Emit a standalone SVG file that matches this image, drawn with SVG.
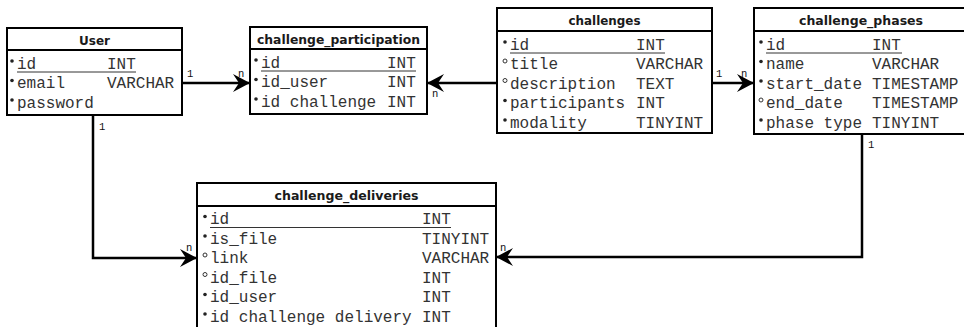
<svg xmlns="http://www.w3.org/2000/svg" width="964" height="327" viewBox="0 0 964 327">
  <defs>
    <marker id="arrow" markerUnits="userSpaceOnUse" markerWidth="20" markerHeight="20" viewBox="-18 -10 20 20" refX="0" refY="0" orient="auto">
      <path d="M0,0 L-17,-9 L-11,0 L-17,9 Z" fill="#000"/>
    </marker>
  </defs>
  <style>
    .box { fill: #fff; stroke: #000; stroke-width: 2; }
    .sep { stroke: #000; stroke-width: 2; }
    .title { font-family: "DejaVu Sans", "Liberation Sans", sans-serif; font-weight: bold; font-size: 13px; fill: #1a1a1a; text-anchor: middle; }
    .f { font-family: "Liberation Mono", "DejaVu Sans Mono", monospace; font-size: 16px; fill: #333; }
    .ul { stroke: #333; stroke-width: 1; }
    .req { fill: #222; }
    .opt { fill: none; stroke: #333; stroke-width: 1; }
    .card { font-family: "Liberation Mono", "DejaVu Sans Mono", monospace; font-size: 10.5px; fill: #111; }
    .link { fill: none; stroke: #000; stroke-width: 2.5; marker-end: url(#arrow); }
  </style>

  <rect width="964" height="327" fill="#fff"/>

  <!-- relationships -->
  <g id="connectors">
    <path class="link" d="M182,83 H250"/>
    <path class="link" d="M497,83 H427"/>
    <path class="link" d="M712,83 H754"/>
    <path class="link" d="M93,115 V258 H197"/>
    <path class="link" d="M862,134 V257 H496"/>
    <text class="card" x="187" y="77">1</text>
    <text class="card" x="238" y="77">n</text>
    <text class="card" x="432" y="97">n</text>
    <text class="card" x="503" y="78">1</text>
    <text class="card" x="716" y="77">1</text>
    <text class="card" x="741" y="77">n</text>
    <text class="card" x="99" y="130">1</text>
    <text class="card" x="186" y="251">n</text>
    <text class="card" x="868" y="148">1</text>
    <text class="card" x="500" y="251">n</text>
  </g>

  <!-- User -->
  <g id="user">
    <rect class="box" x="7" y="28" width="175" height="87"/>
    <line class="sep" x1="7" y1="50" x2="182" y2="50"/>
    <text class="title" x="94.5" y="45" textLength="31" lengthAdjust="spacingAndGlyphs">User</text>
    <circle class="req" cx="12" cy="61" r="1.8"/>
    <text class="f" x="17" y="68.5">id</text><text class="f" x="107" y="68.5">INT</text>
    <line class="ul" x1="17" y1="72" x2="136" y2="72"/>
    <circle class="req" cx="12" cy="80.5" r="1.8"/>
    <text class="f" x="17" y="88">email</text><text class="f" x="107" y="88">VARCHAR</text>
    <circle class="req" cx="12" cy="100" r="1.8"/>
    <text class="f" x="17" y="107.5">password</text>
  </g>

  <!-- challenge_participation -->
  <g id="challenge_participation">
    <rect class="box" x="250" y="27" width="177" height="87"/>
    <line class="sep" x1="250" y1="49" x2="427" y2="49"/>
    <text class="title" x="338.5" y="44" textLength="163" lengthAdjust="spacingAndGlyphs">challenge_participation</text>
    <circle class="req" cx="256" cy="60" r="1.8"/>
    <text class="f" x="261" y="67.5">id</text><text class="f" x="387" y="67.5">INT</text>
    <line class="ul" x1="261" y1="71" x2="416" y2="71"/>
    <circle class="req" cx="256" cy="79.5" r="1.8"/>
    <text class="f" x="261" y="87">id_user</text><text class="f" x="387" y="87">INT</text>
    <circle class="req" cx="256" cy="99" r="1.8"/>
    <text class="f" x="261" y="106.5" xml:space="preserve">id challenge</text><text class="f" x="387" y="106.5">INT</text>
  </g>

  <!-- challenges -->
  <g id="challenges">
    <rect class="box" x="497" y="8" width="215" height="125"/>
    <line class="sep" x1="497" y1="31" x2="712" y2="31"/>
    <text class="title" x="604.5" y="25" textLength="72" lengthAdjust="spacingAndGlyphs">challenges</text>
    <circle class="req" cx="505" cy="42" r="1.8"/>
    <text class="f" x="510" y="49.5">id</text><text class="f" x="636" y="49.5">INT</text>
    <line class="ul" x1="510" y1="53" x2="665" y2="53"/>
    <circle class="opt" cx="505" cy="61" r="2"/>
    <text class="f" x="510" y="69">title</text><text class="f" x="636" y="69">VARCHAR</text>
    <circle class="opt" cx="505" cy="80.5" r="2"/>
    <text class="f" x="510" y="88.5">description</text><text class="f" x="636" y="88.5">TEXT</text>
    <circle class="req" cx="505" cy="100.5" r="1.8"/>
    <text class="f" x="510" y="108">participants</text><text class="f" x="636" y="108">INT</text>
    <circle class="req" cx="505" cy="120" r="1.8"/>
    <text class="f" x="510" y="127.5">modality</text><text class="f" x="636" y="127.5">TINYINT</text>
  </g>

  <!-- challenge_phases -->
  <g id="challenge_phases">
    <rect class="box" x="754" y="8" width="214" height="126"/>
    <line class="sep" x1="754" y1="31" x2="968" y2="31"/>
    <text class="title" x="861" y="25" textLength="124" lengthAdjust="spacingAndGlyphs">challenge_phases</text>
    <circle class="req" cx="761" cy="42" r="1.8"/>
    <text class="f" x="766" y="49.5">id</text><text class="f" x="872" y="49.5">INT</text>
    <line class="ul" x1="766" y1="53" x2="902" y2="53"/>
    <circle class="req" cx="761" cy="61.5" r="1.8"/>
    <text class="f" x="766" y="69">name</text><text class="f" x="872" y="69">VARCHAR</text>
    <circle class="req" cx="761" cy="81" r="1.8"/>
    <text class="f" x="766" y="88.5">start_date</text><text class="f" x="872" y="88.5">TIMESTAMP</text>
    <circle class="opt" cx="761" cy="100" r="2"/>
    <text class="f" x="766" y="108">end_date</text><text class="f" x="872" y="108">TIMESTAMP</text>
    <circle class="req" cx="761" cy="120" r="1.8"/>
    <text class="f" x="766" y="127.5" xml:space="preserve">phase type</text><text class="f" x="872" y="127.5">TINYINT</text>
  </g>

  <!-- challenge_deliveries -->
  <g id="challenge_deliveries">
    <rect class="box" x="197" y="183" width="299" height="150"/>
    <line class="sep" x1="197" y1="206" x2="496" y2="206"/>
    <text class="title" x="346.5" y="200" textLength="144" lengthAdjust="spacingAndGlyphs">challenge_deliveries</text>
    <circle class="req" cx="205" cy="216.5" r="1.8"/>
    <text class="f" x="210" y="224">id</text><text class="f" x="422" y="224">INT</text>
    <line class="ul" x1="210" y1="227.5" x2="451" y2="227.5"/>
    <circle class="req" cx="205" cy="236" r="1.8"/>
    <text class="f" x="210" y="243.5">is_file</text><text class="f" x="422" y="243.5">TINYINT</text>
    <circle class="opt" cx="205" cy="255" r="2"/>
    <text class="f" x="210" y="263">link</text><text class="f" x="422" y="263">VARCHAR</text>
    <circle class="opt" cx="205" cy="274.5" r="2"/>
    <text class="f" x="210" y="282.5">id_file</text><text class="f" x="422" y="282.5">INT</text>
    <circle class="req" cx="205" cy="294.5" r="1.8"/>
    <text class="f" x="210" y="302">id_user</text><text class="f" x="422" y="302">INT</text>
    <circle class="req" cx="205" cy="314" r="1.8"/>
    <text class="f" x="210" y="321.5" xml:space="preserve">id challenge delivery</text><text class="f" x="422" y="321.5">INT</text>
  </g>
</svg>
